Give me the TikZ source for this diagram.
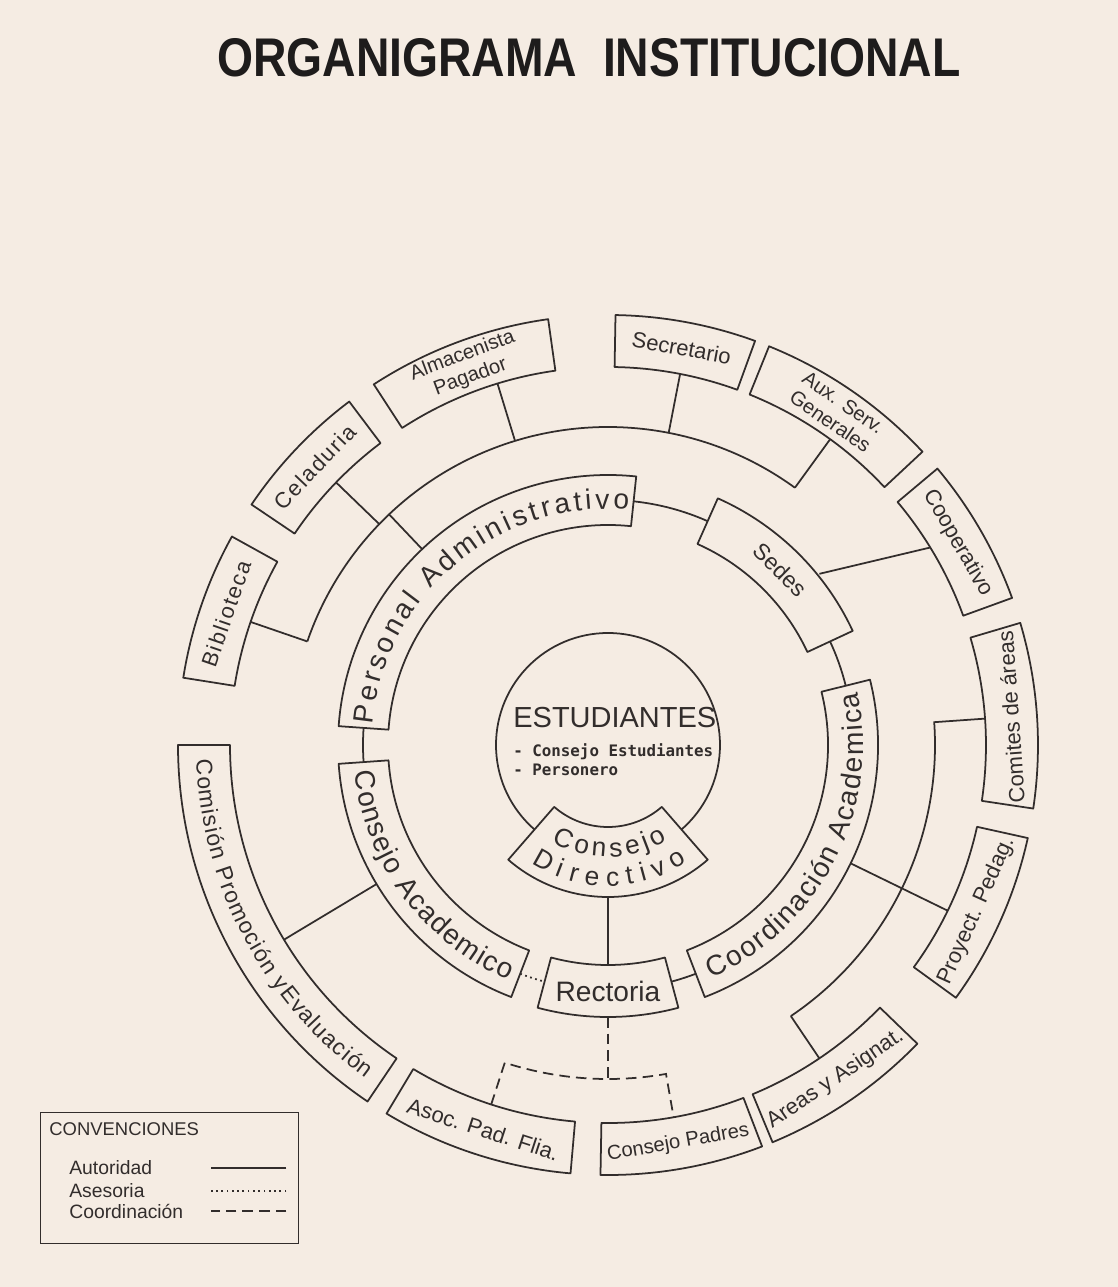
\documentclass[tikz,border=0pt]{standalone}
\usepackage{fontspec}
\setmainfont{Liberation Sans}
\newfontfamily\titlefont[FakeStretch=0.85]{Liberation Sans}
\newfontfamily\monofont{DejaVu Sans Mono}
\usetikzlibrary{positioning,decorations.text}
\definecolor{paper}{RGB}{245,236,227}
\definecolor{ink}{RGB}{50,45,44}
\definecolor{titleink}{RGB}{30,28,28}
\newcommand{\anillo}[4]{\draw[cell] (#1:#3) arc[start angle=#1, end angle=#2, radius=#3] -- (#2:#4) arc[start angle=#2, end angle=#1, radius=#4] -- cycle;}
\newcommand{\bigtxt}{\fontsize{16}{18}\selectfont}
\newcommand{\midtxt}{\fontsize{13}{15}\selectfont}
\newcommand{\dirtxt}{\fontsize{15}{17}\selectfont}
\newcommand{\smalltxt}{\fontsize{11.5}{12}\selectfont}
\newcommand{\spaced}{\addfontfeatures{LetterSpace=8}}

\begin{document}
\begin{tikzpicture}[x=0.02cm, y=0.02cm,
    every node/.style={text=ink, inner sep=0pt},
    cell/.style={draw=ink, fill=paper, line width=1pt, line join=round},
    link/.style={draw=ink, line width=1pt},
    asesoria/.style={link, dotted},
    coordina/.style={link, dash pattern=on 6pt off 3.5pt},
    lbl/.style={font=\fontsize{12.5}{13}\selectfont, align=center},
    curved/.style 2 args={decorate, decoration={text along path, text color=ink, text align={fit to path}, text={|#1|#2}}},
  ]
  \fill[paper] (-608,-542) rectangle (510,745);
  \useasboundingbox (-608,-542) rectangle (510,745);

  \node[font=\titlefont\bfseries\fontsize{31}{34}\selectfont, text=titleink] (titulo) at (-19,687) {ORGANIGRAMA\ \ INSTITUCIONAL};

  \foreach \s/\e in {66/84, 14/25, -75/-69, 176/184}
    \draw[link] (\s:245) arc[start angle=\s, end angle=\e, radius=245];
  \draw[asesoria] (249:245) arc[start angle=249, end angle=255, radius=245];

  \coordinate (adm-e) at (54:318);
  \coordinate (adm-w) at (161:318);
  \draw[link] (adm-e) arc[start angle=54, end angle=161, radius=318];
  \foreach \a in {161, 136, 107, 79, 54}
    \draw[link] (\a:318) -- (\a:378);
  \draw[link] (133.5:270) -- (133.5:318);
  \coordinate (sedes-o) at (39:272);
  \coordinate (coop-i) at (31.5:378);
  \draw[link] (sedes-o) -- (coop-i);

  \coordinate (aca-s) at (-56:327);
  \draw[link] (aca-s) arc[start angle=-56, end angle=4, radius=327] -- (4:378);
  \draw[link] (aca-s) -- (-56:378);
  \draw[link] (-26:270) -- (-26:378);
  \draw[link] (211:270) -- (211:378);

  \coordinate (dir-s) at (270:152);
  \coordinate (rect-n) at (270:220);
  \draw[link] (dir-s) -- (rect-n);
  \coordinate (rect-s) at (270:272);
  \coordinate (pad-c) at (270:334);
  \draw[coordina] (rect-s) -- (pad-c);
  \draw[coordina] (252:378) -- (252:334) arc[start angle=252, end angle=280, radius=334] -- (280:378);

  \draw[link] (0,0) circle[radius=112];
  \anillo{229}{311}{82}{152}
  \anillo{84}{176}{220}{270}
  \anillo{25}{66}{220}{270}
  \anillo{-69}{14}{220}{270}
  \anillo{255}{285}{220}{272}
  \anillo{184}{249}{220}{270}
  \anillo{180}{236}{378}{430}

  \foreach \n/\s/\e/\r/\t in {
      bib/151/171/71/{\spaced Biblioteca},
      cel/127/146/46.5/{\spaced Celaduria},
      alm/98/123/20.5/{\smalltxt Almacenista\\\smalltxt Pagador},
      sec/70/89/-10.5/Secretario,
      aux/43/68/-34.5/{\smalltxt Aux. Serv.\\\smalltxt Generales},
      coop/20/40/-60/Cooperativo,
      com/-8.5/16.5/94/Comites de áreas,
      proy/-36/-12.5/65.75/Proyect. Pedag.,
      areas/-67.5/-44/34.25/Areas y Asignat.,
      cpad/-91/-69/10/{\smalltxt Consejo Padres},
      asoc/-121/-95/-18/Asoc. Pad. Flia.} {
    \anillo{\s}{\e}{378}{430}
    \node[lbl, rotate=\r] (\n) at ({(\s+\e)/2}:404) {\t};
  }

  \path[curved={\bigtxt}{Personal Administrativo}] (175:236) arc[start angle=175, end angle=85, radius=236];
  \path[curved={\bigtxt}{Consejo Academico}] (186:255) arc[start angle=186, end angle=247, radius=255];
  \path[curved={\bigtxt}{Coordinación Academica}] (-66:255) arc[start angle=-66, end angle=12, radius=255];
  \path[curved={\midtxt}{Comisión Promoción yEvaluación}] (182:412) arc[start angle=182, end angle=234, radius=412];
  \path[curved={\dirtxt}{Consejo}] (240:112) arc[start angle=240, end angle=302, radius=112];
  \path[curved={\dirtxt}{Directivo}] (237:141) arc[start angle=237, end angle=304, radius=141];
  \node[font=\bigtxt] (rect) at (270:246) {Rectoria};
  \node[font=\midtxt, rotate=-44.5] (sedes) at (45.5:246) {Sedes};

  \node[font=\fontsize{16.5}{18}\selectfont, anchor=base west] (est) at (-95,17) {ESTUDIANTES};
  \node[font=\monofont\bfseries\fontsize{9}{10}\selectfont, below=16pt of est.base west, anchor=base west] (cest) {- Consejo Estudiantes};
  \node[font=\monofont\bfseries\fontsize{9}{10}\selectfont, below=11pt of cest.base west, anchor=base west] (pers) {- Personero};

  \node[draw=ink, line width=0.8pt, minimum width=5.16cm, minimum height=2.62cm, anchor=north west] (conv) at (-568,-367) {};
  \node[font=\fontsize{10.5}{12}\selectfont, anchor=west] (conv-t) at ([shift={(9,-17)}]conv.north west) {CONVENCIONES};
  \node[font=\fontsize{11}{12}\selectfont, anchor=west] (aut) at ([shift={(29,-56)}]conv.north west) {Autoridad};
  \node[font=\fontsize{11}{12}\selectfont, anchor=west] (ase) at ([shift={(29,-79)}]conv.north west) {Asesoria};
  \node[font=\fontsize{11}{12}\selectfont, anchor=west] (coo) at ([shift={(29,-99)}]conv.north west) {Coordinación};
  \draw[link] (aut.east -| conv.east) ++(-13,0) -- ++(-75,0);
  \draw[asesoria] (ase.east -| conv.east) ++(-13,0) -- ++(-75,0);
  \draw[coordina] (coo.east -| conv.east) ++(-13,0) -- ++(-75,0);
\end{tikzpicture}
\end{document}
